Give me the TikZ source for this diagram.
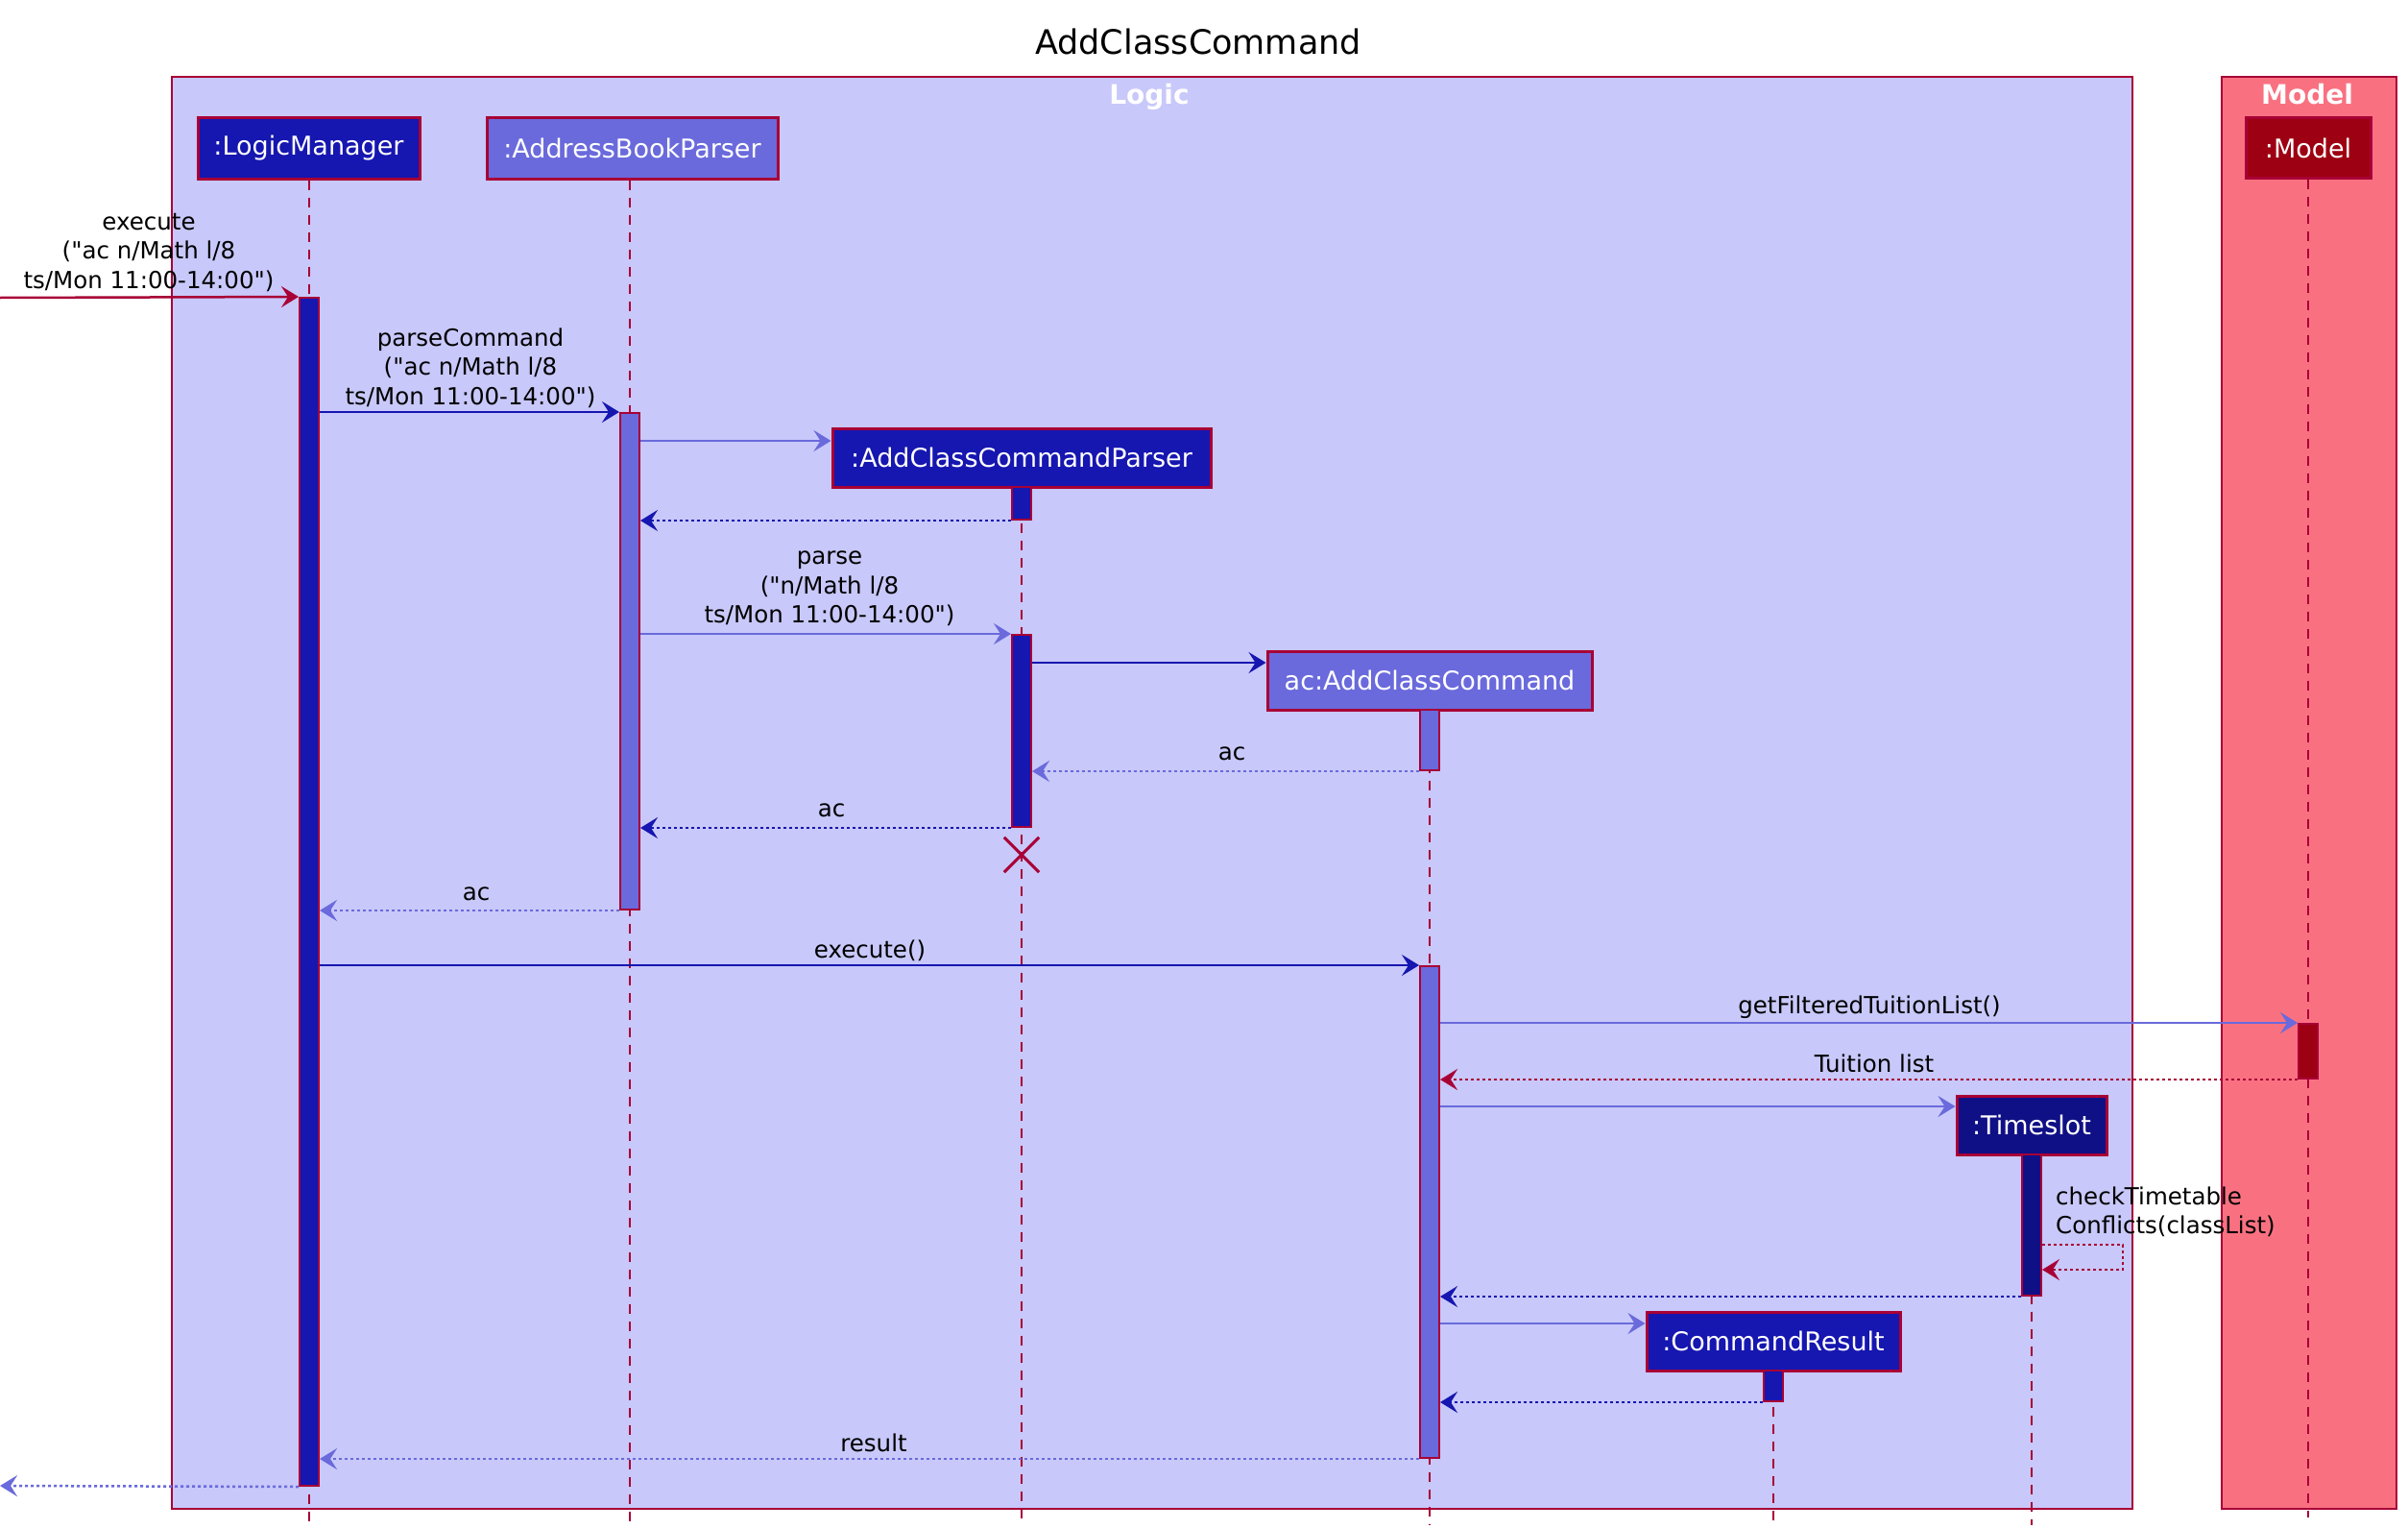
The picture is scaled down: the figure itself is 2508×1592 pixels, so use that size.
\documentclass[tikz,border=0pt]{standalone}
\usepackage{fontspec}
\setmainfont{DejaVu Sans}[Ligatures=TeXOff]
\usetikzlibrary{arrows.meta}
\definecolor{crim}{HTML}{A80036}
\definecolor{tone1}{HTML}{C8C8FA}
\definecolor{tone2}{HTML}{6A6ADC}
\definecolor{tone3}{HTML}{1616B0}
\definecolor{tone4}{HTML}{101086}
\definecolor{modelc}{HTML}{9D0012}
\definecolor{modelt}{HTML}{F97181}
\newcommand{\partfont}{\fontsize{27}{32}\selectfont}
\newcommand{\msgfont}{\fontsize{24.5}{30.5}\selectfont}
\begin{document}
\begin{tikzpicture}[x=1pt,y=-1pt,
  grp/.style={draw=crim, line width=2.5pt},
  grplabel/.style={text=white, font=\fontsize{28}{32}\selectfont\bfseries, inner sep=0pt, anchor=base},
  part/.style={draw=crim, line width=3pt, text=white, font=\partfont, inner sep=0pt},
  act/.style={draw=crim, line width=2pt, inner sep=0pt, minimum width=20},
  life/.style={draw=crim, line width=2pt, dash pattern=on 10pt off 8pt},
  msg/.style={line width=2.5pt, -{Stealth[length=18pt,width=22pt,inset=7pt]}},
  ret/.style={msg, dash pattern=on 3pt off 3pt},
  lbl/.style={font=\msgfont, text=black, inner sep=0pt, align=center},
]
\useasboundingbox (0,0) rectangle (2508,1592);
\fill[white] (0,0) rectangle (2508,1592);

% title
\node[font=\fontsize{35}{40}\selectfont, inner sep=0pt] (title) at (1248,43) {AddClassCommand};

% groups
\node[grp, fill=tone1, minimum width=2042, minimum height=1491, inner sep=0pt] (logic) at (1200,825.5) {};
\node[grp, fill=modelt, minimum width=182, minimum height=1491, inner sep=0pt] (model) at (2405,825.5) {};
\node[grplabel] (logiclbl) at (1197,109) {Logic};
\node[grplabel] (modellbl) at (2403,109) {Model};

% participants
\node[part, fill=tone3, minimum width=231, minimum height=63] (lm) at (321.5,154.5) {:LogicManager};
\node[part, fill=tone2, minimum width=303, minimum height=63] (abp) at (658.5,154.5) {:AddressBookParser};
\node[part, fill=tone3, minimum width=394, minimum height=61] (accp) at (1064,476.5) {:AddClassCommandParser};
\node[part, fill=tone2, minimum width=338, minimum height=61] (ac) at (1489,708.5) {ac:AddClassCommand};
\node[part, fill=tone4, minimum width=156, minimum height=61] (ts) at (2116,1171.5) {:Timeslot};
\node[part, fill=tone3, minimum width=264, minimum height=61] (cr) at (1847,1396.5) {:CommandResult};
\node[part, fill=modelc, minimum width=130, minimum height=62] (mdl) at (2404,154) {:Model};

% lifelines
\draw[life] (lm.south -| 322,0) -- (322,1588);
\draw[life] (abp.south -| 656,0) -- (656,1588);
\draw[life] (accp.south) -- (accp.south |- 0,1588);
\draw[life] (ac.south) -- (ac.south |- 0,1588);
\draw[life] (ts.south) -- (ts.south |- 0,1588);
\draw[life] (cr.south) -- (cr.south |- 0,1588);
\draw[life] (mdl.south) -- (mdl.south |- 0,1580);

% activations
\node[act, fill=tone3, minimum height=1237] (lma) at (322,928.5) {};
\node[act, fill=tone2, minimum height=517] (abpa) at (656,688.5) {};
\node[act, fill=tone3, minimum height=34] (accpa1) at (1064,524) {};
\node[act, fill=tone3, minimum height=200] (accpa2) at (1064,761) {};
\node[act, fill=tone2, minimum height=63] (aca1) at (1489,770.5) {};
\node[act, fill=tone2, minimum height=512] (aca2) at (1489,1262) {};
\node[act, fill=modelc, minimum height=57] (mdla) at (2404,1094.5) {};
\node[act, fill=tone4, minimum height=147] (tsa) at (2116,1275.5) {};
\node[act, fill=tone3, minimum height=32] (cra) at (1847,1443) {};

% destroy
\node[inner sep=0pt, minimum size=36] (xd) at (1064,890) {};
\draw[crim, line width=3pt] (xd.north west) -- (xd.south east) (xd.north east) -- (xd.south west);

% messages
\coordinate (inL) at (0,310);
\coordinate (outL) at (0,1547);
\draw[msg, crim] (inL) -- (lma.north west);
\node[lbl] (l1) at (155,263) {execute\\("ac n/Math l/8\\ts/Mon 11:00-14:00")};

\draw[msg, tone3] (lma.east |- abpa.north) -- (abpa.north west);
\node[lbl] (l2) at (490,383) {parseCommand\\("ac n/Math l/8\\ts/Mon 11:00-14:00")};

\draw[msg, tone2] (abpa.east |- 0,459) -- (accp.west |- 0,459);
\draw[ret, tone3] (accpa1.south west) -- (abpa.east |- accpa1.south);

\draw[msg, tone2] (abpa.east |- accpa2.north) -- (accpa2.north west);
\node[lbl] (l3) at (864,613) {parse\\("n/Math l/8\\ts/Mon 11:00-14:00")};

\draw[msg, tone3] (accpa2.east |- 0,690) -- (ac.west |- 0,690);

\draw[ret, tone2] (aca1.south west) -- (accpa2.east |- aca1.south);
\node[lbl] (l4) at (1283,785) {ac};

\draw[ret, tone3] (accpa2.south west) -- (abpa.east |- accpa2.south);
\node[lbl] (l5) at (866,844) {ac};

\draw[ret, tone2] (abpa.south west) -- (lma.east |- abpa.south);
\node[lbl] (l6) at (496,931) {ac};

\draw[msg, tone3] (lma.east |- aca2.north) -- (aca2.north west);
\node[lbl] (l7) at (906,990) {execute()};

\draw[msg, tone2] (aca2.east |- mdla.north) -- (mdla.north west);
\node[lbl] (l8) at (1947,1049) {getFilteredTuitionList()};

\draw[ret, crim] (mdla.south west) -- (aca2.east |- mdla.south);
\node[lbl] (l9) at (1952,1107) {Tuition list};

\draw[msg, tone2] (aca2.east |- 0,1152) -- (ts.west |- 0,1152);

\draw[ret, crim] (tsa.east |- 0,1296) -- (2211,1296) -- (2211,1322) -- (tsa.east |- 0,1322);
\node[lbl, align=left, anchor=west] (l10) at (2141,1262) {checkTimetable\\Conflicts(classList)};

\draw[ret, tone3] (tsa.south west) -- (aca2.east |- tsa.south);

\draw[msg, tone2] (aca2.east |- 0,1378) -- (cr.west |- 0,1378);
\draw[ret, tone3] (cra.south west) -- (aca2.east |- cra.south);

\draw[ret, tone2] (aca2.south west) -- (lma.east |- aca2.south);
\node[lbl] (l11) at (910,1502) {result};

\draw[ret, tone2] (lma.south west) -- (outL);
\end{tikzpicture}
\end{document}
